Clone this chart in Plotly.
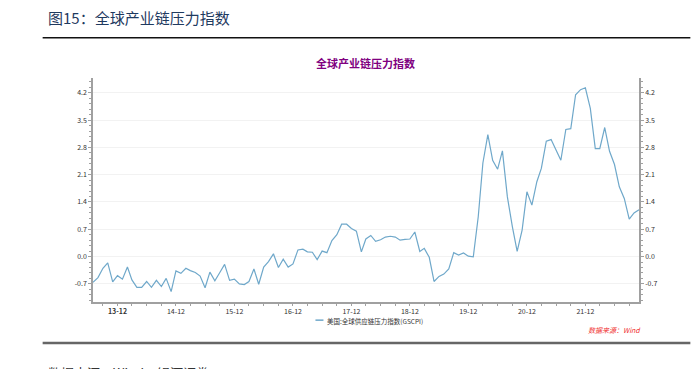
import plotly.graph_objects as go
import pandas as pd

# ---- data ----
months = pd.date_range("2013-07-01", "2022-11-01", freq="MS").strftime("%Y-%m-%d").tolist()
gscpi = [
    -0.66, -0.54, -0.30, -0.16, -0.65, -0.49,             # 2013-07 .. 2013-12
    -0.58, -0.27, -0.60, -0.79, -0.79, -0.64, -0.79, -0.61, -0.77, -0.56, -0.90, -0.37,  # 2014
    -0.43, -0.30, -0.36, -0.41, -0.50, -0.80, -0.40, -0.62, -0.41, -0.20, -0.61, -0.58,  # 2015
    -0.70, -0.72, -0.64, -0.32, -0.71, -0.27, -0.13, 0.07, -0.28, -0.07, -0.27, -0.19,   # 2016
    0.17, 0.19, 0.12, 0.11, -0.08, 0.14, 0.10, 0.41, 0.56, 0.83, 0.83, 0.72,             # 2017
    0.65, 0.12, 0.45, 0.54, 0.39, 0.43, 0.50, 0.52, 0.50, 0.42, 0.44, 0.45,              # 2018
    0.63, 0.13, 0.21, -0.02, -0.64, -0.51, -0.45, -0.32, 0.10, 0.04, 0.09, 0.01,         # 2019
    -0.01, 1.02, 2.40, 3.13, 2.47, 2.24, 2.71, 1.53, 0.77, 0.13, 0.68, 1.66,             # 2020
    1.32, 1.92, 2.26, 2.96, 3.00, 2.75, 2.47, 3.26, 3.28, 4.15, 4.28, 4.33,              # 2021
    3.80, 2.77, 2.77, 3.31, 2.70, 2.36, 1.79, 1.49, 0.96, 1.12, 1.20,                    # 2022-01 .. 2022-11
]
x_tick_vals = ["2013-12-01", "2014-12-01", "2015-12-01", "2016-12-01", "2017-12-01",
               "2018-12-01", "2019-12-01", "2020-12-01", "2021-12-01"]
x_tick_text = ["<b>13-12</b>", "14-12", "15-12", "16-12", "17-12", "18-12", "19-12", "20-12", "21-12"]
y_tick_vals = [-0.7, 0.0, 0.7, 1.4, 2.1, 2.8, 3.5, 4.2]
y_tick_text = ["-0.7", "0.0", "0.7", "1.4", "2.1", "2.8", "3.5", "4.2"]
series_name = "美国:全球供应链压力指数(GSCPI)"

# ---- layout geometry (pixels) ----
W, H = 699, 369
L, R, T, B = 93.3, 638.7, 77.7, 302.3
PW, PH = R - L, B - T

def px(x):
    return (x - L) / PW

def py(y):
    return (B - y) / PH

LINE_COLOR = "#6FA8CA"
AXIS_COLOR = "#A0A0A0"
FONT = "Noto Sans CJK SC, Noto Sans, sans-serif"

fig = go.Figure()
fig.add_trace(go.Scatter(x=months, y=gscpi, mode="lines",
                         line=dict(color=LINE_COLOR, width=1.2),
                         name=series_name, showlegend=False))
fig.add_trace(go.Scatter(x=months, y=gscpi, mode="lines", yaxis="y2",
                         line=dict(color=LINE_COLOR, width=0), opacity=0,
                         hoverinfo="skip", showlegend=False))

yrange = [-1.166, 4.58]
common_y = dict(range=yrange, tickvals=y_tick_vals, ticktext=y_tick_text,
                ticks="outside", ticklen=3, tickcolor=AXIS_COLOR,
                showline=True, linecolor=AXIS_COLOR, linewidth=1.5,
                zeroline=False, tickfont=dict(size=7, color="#333333", family=FONT),
                minor=dict(dtick=0.14, ticks="outside", ticklen=2, tickcolor=AXIS_COLOR, showgrid=False))

fig.update_layout(
    width=W, height=H,
    margin=dict(l=L, r=W - R, t=T, b=H - B),
    paper_bgcolor="white", plot_bgcolor="white",
    font=dict(family=FONT),
    xaxis=dict(type="date", range=["2013-07-01", "2022-11-01"],
               tickvals=x_tick_vals, ticktext=x_tick_text,
               ticks="outside", ticklen=2, tickcolor=AXIS_COLOR,
               showline=True, linecolor=AXIS_COLOR, linewidth=1.5,
               showgrid=False, zeroline=False,
               tickfont=dict(size=7, color="#333333", family=FONT),
               minor=dict(dtick="M3", tick0="2013-12-01", ticks="outside", ticklen=2,
                          tickcolor=AXIS_COLOR, showgrid=False)),
    yaxis=dict(**common_y, showgrid=True, gridcolor="#F2F2F2", gridwidth=1),
    yaxis2=dict(**common_y, overlaying="y", side="right", showgrid=False),
    showlegend=False,
)

shapes = [
    dict(type="line", xref="paper", yref="paper", x0=px(43), x1=px(690), y0=py(37.3), y1=py(37.3),
         line=dict(color="#111111", width=1.5)),
    dict(type="line", xref="paper", yref="paper", x0=px(43), x1=px(690), y0=py(343.5), y1=py(343.5),
         line=dict(color="#666666", width=2.5)),
    dict(type="line", xref="paper", yref="paper", x0=px(315.5), x1=px(323.5), y0=py(320.5), y1=py(320.5),
         line=dict(color=LINE_COLOR, width=1.5)),
]
fig.update_layout(shapes=shapes)

annotations = [
    dict(text="图15：全球产业链压力指数", x=px(46), y=py(17), xref="paper", yref="paper",
         xanchor="left", yanchor="middle", showarrow=False,
         font=dict(size=15, color="#1F3A5F", family=FONT)),
    dict(text="<b>全球产业链压力指数</b>", x=px(366), y=py(63), xref="paper", yref="paper",
         xanchor="center", yanchor="middle", showarrow=False,
         font=dict(size=11, color="#800080", family=FONT)),
    dict(text=series_name, x=px(325), y=py(321), xref="paper", yref="paper",
         xanchor="left", yanchor="middle", showarrow=False,
         font=dict(size=6.5, color="#333333", family=FONT)),
    dict(text="<i>数据来源：Wind</i>", x=px(643), y=py(330), xref="paper", yref="paper",
         xanchor="right", yanchor="middle", showarrow=False,
         font=dict(size=7, color="#F03030", family=FONT)),
    dict(text="数据来源：Wind，银河证券", x=px(46), y=py(361), xref="paper", yref="paper",
         xanchor="left", yanchor="top", showarrow=False,
         font=dict(size=13, color="#333333", family=FONT)),
]
fig.update_layout(annotations=annotations)

fig.write_html("out.html", config={"displayModeBar": False},
               post_script="document.body.style.margin='0';document.body.style.overflow='hidden';")
